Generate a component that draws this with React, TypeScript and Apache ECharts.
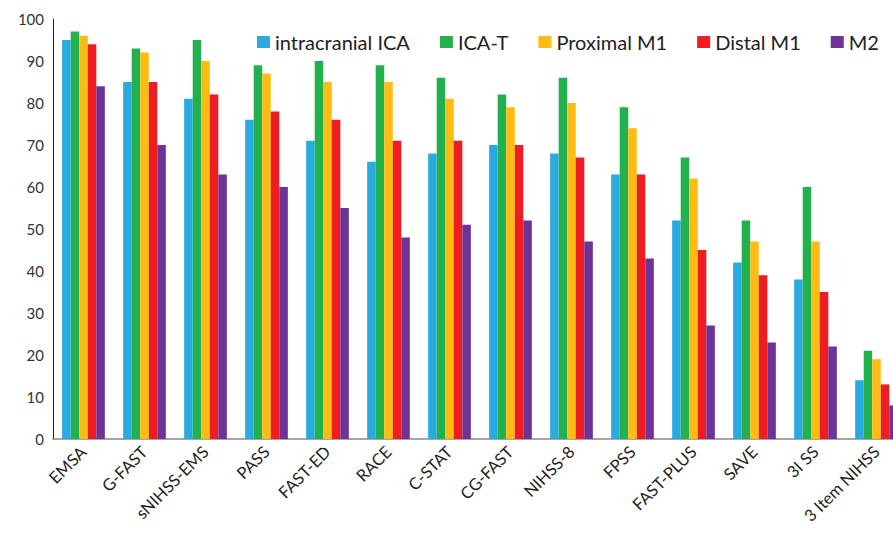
import React, { useEffect, useRef } from "react";
import * as echarts from "echarts";

const categories = ["EMSA", "G-FAST", "sNIHSS-EMS", "PASS", "FAST-ED", "RACE", "C-STAT", "CG-FAST", "NIHSS-8", "FPSS", "FAST-PLUS", "SAVE", "3I SS", "3 Item NIHSS"];
const intracranialICA = [95, 85, 81, 76, 71, 66, 68, 70, 68, 63, 52, 42, 38, 14];
const icaT = [97, 93, 95, 89, 90, 89, 86, 82, 86, 79, 67, 52, 60, 21];
const proximalM1 = [96, 92, 90, 87, 85, 85, 81, 79, 80, 74, 62, 47, 47, 19];
const distalM1 = [94, 85, 82, 78, 76, 71, 71, 70, 67, 63, 45, 39, 35, 13];
const m2 = [84, 70, 63, 60, 55, 48, 51, 52, 47, 43, 27, 23, 22, 8];
const seriesNames = ["intracranial ICA", "ICA-T", "Proximal M1", "Distal M1", "M2"];
const colors = ["#29ABE2", "#22B14C", "#FDBB14", "#EE1D24", "#6E3399"];

export default function App() {
  const ref = useRef<HTMLDivElement>(null);
  useEffect(() => {
    if (!ref.current) return;
    document.body.style.margin = "0";
    const chart = echarts.init(ref.current, null, { renderer: "svg" });
    const data = [intracranialICA, icaT, proximalM1, distalM1, m2];
    chart.setOption({
      animation: false,
      textStyle: { fontFamily: "Lato" },
      legend: {
        left: 252,
        top: 27,
        width: 700,
        icon: "rect",
        itemWidth: 13,
        itemHeight: 12,
        itemGap: 30,
        padding: 5,
        textStyle: { fontSize: 20, color: "#222", fontFamily: "Lato", padding: [0, 0, 0, 0] },
        data: seriesNames,
      },
      grid: { left: 53, top: 19, bottom: 97, right: -14, outerBoundsMode: "none", containLabel: false },
      xAxis: {
        type: "category",
        data: categories,
        axisLine: { lineStyle: { color: "#888", width: 1.5 } },
        axisTick: { show: false },
        axisLabel: { rotate: 45, fontSize: 16.5, color: "#222", margin: 10, interval: 0 },
      },
      yAxis: {
        type: "value",
        min: 0,
        max: 100,
        interval: 10,
        splitLine: { show: false },
        axisLine: { show: true, lineStyle: { color: "#222", width: 1 } },
        axisTick: { show: false },
        axisLabel: { fontSize: 15, color: "#333", margin: 9 },
      },
      series: seriesNames.map((name, i) => ({
        name,
        type: "bar",
        data: data[i],
        itemStyle: { color: colors[i] },
        barGap: "0%",
        barCategoryGap: "30%",
      })),
    });
    return () => chart.dispose();
  }, []);
  return <div ref={ref} style={{ width: 893, height: 536 }} />;
}
